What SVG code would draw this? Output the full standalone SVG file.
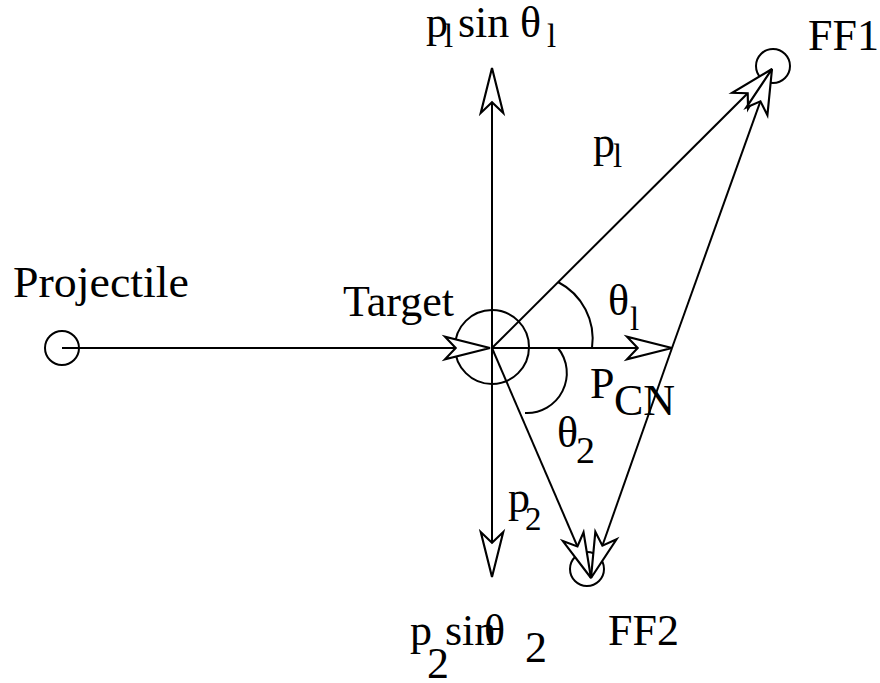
<svg xmlns="http://www.w3.org/2000/svg" width="880" height="683" viewBox="0 0 880 683">
<style>
.ln{stroke:#000;stroke-width:2;fill:none}
.ar{stroke:#000;stroke-width:2;fill:none;marker-end:url(#ah)}
.nd{stroke:#000;stroke-width:2;fill:none}
text{font-family:"Liberation Serif","Times New Roman",serif;fill:#000}
.t{font-size:44px}
.s{font-size:33px}
</style>
<defs>
<marker id="ah" markerUnits="userSpaceOnUse" orient="auto" markerWidth="60" markerHeight="30" viewBox="-46 -14 50 28" refX="0" refY="0" overflow="visible">
<path d="M0,0 L-42,-10.5 L-32,0 L-42,10.5 Z" fill="#fff" stroke="#000" stroke-width="2" stroke-linejoin="miter"/>
</marker>
</defs>
<rect width="880" height="683" fill="#fff"/>
<g id="projectile">
<circle class="nd" cx="62" cy="348" r="17"/>
<text class="t" x="13" y="297" textLength="176" lengthAdjust="spacingAndGlyphs">Projectile</text>
</g>
<g id="target">
<circle class="nd" cx="492" cy="347" r="37"/>
<text class="t" x="343" y="316">Target</text>
</g>
<g id="ff1">
<circle class="nd" cx="773" cy="66" r="17"/>
<text class="t" x="808" y="50">FF1</text>
</g>
<g id="ff2">
<circle class="nd" cx="587" cy="569" r="17"/>
<text class="t" x="608" y="645">FF2</text>
</g>
<g id="connectors">
<line class="ar" x1="62" y1="348" x2="490" y2="348"/>
<line class="ar" x1="492" y1="348" x2="672" y2="348"/>
<line class="ar" x1="492" y1="348" x2="492" y2="68"/>
<line class="ar" x1="492" y1="348" x2="492" y2="577"/>
<line class="ar" x1="492" y1="348" x2="772" y2="69"/>
<line class="ar" x1="672" y1="348" x2="772" y2="69"/>
<line class="ar" x1="492" y1="348" x2="591" y2="578"/>
<line class="ar" x1="672" y1="348" x2="591" y2="578"/>
<path class="ln" d="M558,282 A64,64 0 0 1 592,348"/>
<path class="ln" d="M558,348 A40,40 0 0 1 525,413"/>
</g>
<g id="labels">
<text class="t" x="426" y="37">p</text><text class="s" x="444" y="47">l</text>
<text class="t" x="458" y="37">sin</text><text class="t" x="520" y="37">θ</text><text class="s" x="547" y="47">l</text>
<text class="t" x="593" y="157">p</text><text class="s" x="613" y="167">l</text>
<text class="t" x="608" y="315">θ</text><text class="s" x="630" y="330">l</text>
<text class="t" x="590" y="398">P</text><text class="t" x="614" y="415">CN</text>
<text class="t" x="557" y="447">θ</text><text style="font-size:38px" x="576" y="463">2</text>
<text class="t" x="508" y="512">p</text><text class="s" x="525" y="530">2</text>
<text class="t" x="410" y="645">p</text><text class="t" x="427" y="678">2</text>
<text class="t" x="445" y="645">sin</text><text class="t" x="484" y="645">θ</text>
<text class="t" x="525" y="662">2</text>
</g>
</svg>
